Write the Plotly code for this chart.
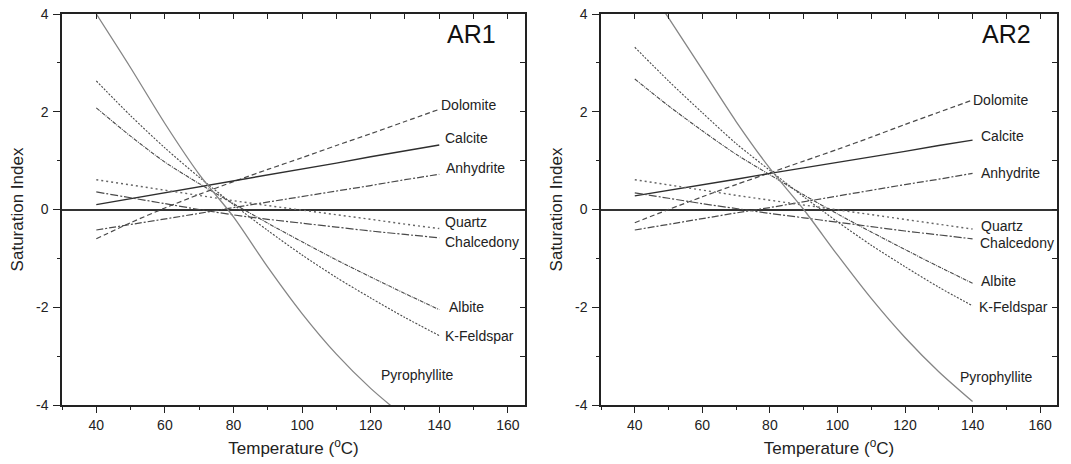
import plotly.graph_objects as go

# ---------------- data ----------------
temperature = [40, 50, 60, 70, 80, 90, 100, 110, 120, 130, 140]

ar1_dolomite     = [-0.60, -0.27, 0.03, 0.31, 0.57, 0.82, 1.06, 1.31, 1.55, 1.80, 2.05]
ar1_calcite      = [0.10, 0.22, 0.34, 0.47, 0.59, 0.71, 0.83, 0.95, 1.08, 1.20, 1.32]
ar1_anhydrite    = [-0.42, -0.31, -0.19, -0.08, 0.04, 0.15, 0.26, 0.38, 0.49, 0.61, 0.72]
ar1_quartz       = [0.61, 0.50, 0.39, 0.28, 0.18, 0.08, -0.01, -0.11, -0.20, -0.30, -0.39]
ar1_chalcedony   = [0.36, 0.24, 0.12, 0.00, -0.11, -0.20, -0.28, -0.36, -0.44, -0.51, -0.58]
ar1_albite       = [2.08, 1.50, 0.97, 0.53, 0.12, -0.28, -0.66, -1.03, -1.38, -1.72, -2.05]
ar1_kfeldspar    = [2.63, 1.92, 1.26, 0.66, 0.10, -0.43, -0.93, -1.39, -1.81, -2.21, -2.58]
ar1_pyrophyllite = [4.00, 2.90, 1.76, 0.72, -0.15, -1.18, -2.13, -2.96, -3.66, -4.25, -4.80]

ar2_dolomite     = [-0.27, 0.00, 0.26, 0.51, 0.75, 0.99, 1.23, 1.48, 1.74, 1.99, 2.24]
ar2_calcite      = [0.28, 0.39, 0.51, 0.62, 0.74, 0.85, 0.96, 1.08, 1.19, 1.31, 1.42]
ar2_anhydrite    = [-0.42, -0.30, -0.19, -0.07, 0.04, 0.16, 0.28, 0.39, 0.51, 0.62, 0.74]
ar2_quartz       = [0.61, 0.50, 0.39, 0.29, 0.19, 0.09, -0.01, -0.11, -0.21, -0.30, -0.40]
ar2_chalcedony   = [0.34, 0.23, 0.12, 0.02, -0.08, -0.17, -0.26, -0.35, -0.44, -0.52, -0.60]
ar2_albite       = [2.67, 2.12, 1.61, 1.13, 0.71, 0.30, -0.09, -0.46, -0.82, -1.17, -1.51]
ar2_kfeldspar    = [3.32, 2.63, 1.98, 1.35, 0.80, 0.26, -0.25, -0.73, -1.17, -1.59, -1.97]
ar2_pyrophyllite = [4.95, 3.92, 2.86, 1.80, 0.84, 0.00, -0.93, -1.82, -2.62, -3.32, -3.93]

minerals = ["Dolomite", "Calcite", "Anhydrite", "Quartz", "Chalcedony",
            "Albite", "K-Feldspar", "Pyrophyllite"]
ar1 = [ar1_dolomite, ar1_calcite, ar1_anhydrite, ar1_quartz, ar1_chalcedony,
       ar1_albite, ar1_kfeldspar, ar1_pyrophyllite]
ar2 = [ar2_dolomite, ar2_calcite, ar2_anhydrite, ar2_quartz, ar2_chalcedony,
       ar2_albite, ar2_kfeldspar, ar2_pyrophyllite]

x_ticks = [40, 60, 80, 100, 120, 140, 160]
x_ticktext = ["40", "60", "80", "100", "120", "140", "160"]
y_ticks = [-4, -2, 0, 2, 4]
y_ticktext = ["-4", "-2", "0", "2", "4"]

# ---------------- styles ----------------
styles = {
    "Dolomite":     dict(color="#4a4a4a", width=1.2, dash="5px,3px"),
    "Calcite":      dict(color="#2e2e2e", width=1.4, dash="solid"),
    "Anhydrite":    dict(color="#4a4a4a", width=1.2, dash="7px,2px,2px,2px"),
    "Quartz":       dict(color="#666666", width=1.4, dash="2px,3px"),
    "Chalcedony":   dict(color="#4a4a4a", width=1.2, dash="8px,2px,2px,2px"),
    "Albite":       dict(color="#4a4a4a", width=1.1, dash="4px,1px,1px,1px"),
    "K-Feldspar":   dict(color="#4a4a4a", width=1.1, dash="2px,1.5px"),
    "Pyrophyllite": dict(color="#858585", width=1.3, dash="solid"),
}

# label positions (data coordinates)
labels_ar1 = {
    "Dolomite": (140.0, 2.13), "Calcite": (141.2, 1.46), "Anhydrite": (141.5, 0.84),
    "Quartz": (141.2, -0.25), "Chalcedony": (141.0, -0.67), "Albite": (142.2, -2.0),
    "K-Feldspar": (141.2, -2.59), "Pyrophyllite": (122.3, -3.38),
}
labels_ar2 = {
    "Dolomite": (139.5, 2.25), "Calcite": (142.0, 1.50), "Anhydrite": (142.0, 0.74),
    "Quartz": (142.0, -0.34), "Chalcedony": (141.5, -0.68), "Albite": (141.8, -1.46),
    "K-Feldspar": (141.2, -2.0), "Pyrophyllite": (135.8, -3.42),
}

FONT = "Liberation Sans, Arial, Helvetica, sans-serif"
W, H = 1071, 464
y_dom = [1 - 405 / H, 1 - 14 / H]
x1_dom = [62 / W, 525 / W]
x2_dom = [601 / W, 1057 / W]

fig = go.Figure()

for data, xa, ya in [(ar1, "x", "y"), (ar2, "x2", "y2")]:
    for name, vals in zip(minerals, data):
        st = styles[name]
        shape = "spline" if name in ("Pyrophyllite", "Albite", "K-Feldspar", "Chalcedony", "Dolomite") else "linear"
        fig.add_trace(go.Scatter(
            x=temperature, y=vals, mode="lines", name=name, showlegend=False,
            line=dict(color=st["color"], width=st["width"], dash=st["dash"], shape=shape, smoothing=0.8),
            xaxis=xa, yaxis=ya, hoverinfo="x+y+name"))

# dummy traces for the mirrored (top / right) tick axes
fig.add_trace(go.Scatter(x=[None], y=[None], xaxis="x3", yaxis="y3", showlegend=False, hoverinfo="skip"))
fig.add_trace(go.Scatter(x=[None], y=[None], xaxis="x4", yaxis="y4", showlegend=False, hoverinfo="skip"))

axis_font = dict(family=FONT, size=14, color="#222")
title_font = dict(family=FONT, size=17, color="#222")

def xmain(dom, anchor):
    return dict(domain=dom, anchor=anchor, range=[30, 165], tickvals=x_ticks, ticktext=x_ticktext,
                ticks="outside", ticklen=6, tickwidth=1.2, tickcolor="#222",
                minor=dict(dtick=10, tick0=0, ticks="outside", ticklen=3, tickwidth=1.2, tickcolor="#222"),
                showline=True, linecolor="#222", linewidth=1.5, showgrid=False, zeroline=False,
                tickfont=axis_font, automargin=False, ticklabeloverflow="allow",
                title=dict(text="Temperature (<sup>o</sup>C)", font=title_font, standoff=11))

def ymain(anchor):
    return dict(domain=y_dom, anchor=anchor, range=[-4, 4], tickvals=y_ticks, ticktext=y_ticktext,
                ticks="outside", ticklen=7, tickwidth=1.2, tickcolor="#222", ticklabelstandoff=2,
                minor=dict(dtick=1, tick0=0, ticks="outside", ticklen=3, tickwidth=1.2, tickcolor="#222"),
                showline=True, linecolor="#222", linewidth=1.5, showgrid=False,
                zeroline=True, zerolinecolor="#333", zerolinewidth=1.6,
                tickfont=axis_font, automargin=False, ticklabeloverflow="allow",
                title=dict(text="Saturation Index", font=title_font, standoff=8))

def xtop(dom, overlay, anchor):
    return dict(domain=dom, overlaying=overlay, anchor=anchor, side="top", range=[30, 165],
                dtick=10, tick0=0, ticks="inside", ticklen=5, tickwidth=1.2, tickcolor="#222",
                showticklabels=False, showline=True, linecolor="#222", linewidth=1.5,
                showgrid=False, zeroline=False, automargin=False)

def yright(overlay, anchor):
    return dict(domain=y_dom, overlaying=overlay, anchor=anchor, side="right", range=[-4, 4],
                dtick=1, tick0=0, ticks="inside", ticklen=5, tickwidth=1.2, tickcolor="#222",
                showticklabels=False, showline=True, linecolor="#222", linewidth=1.5,
                showgrid=False, zeroline=False, automargin=False)

fig.update_layout(
    width=W, height=H,
    margin=dict(l=0, r=0, t=0, b=0, autoexpand=False),
    paper_bgcolor="white", plot_bgcolor="white",
    font=dict(family=FONT, color="#222"),
    showlegend=False,
    xaxis=xmain(x1_dom, "y"),
    yaxis=ymain("x"),
    xaxis2=xmain(x2_dom, "y2"),
    yaxis2=ymain("x2"),
    xaxis3=xtop(x1_dom, "x", "y3"),
    yaxis3=yright("y", "x3"),
    xaxis4=xtop(x2_dom, "x2", "y4"),
    yaxis4=yright("y2", "x4"),
)

annotations = []
for labels, xa, ya in [(labels_ar1, "x", "y"), (labels_ar2, "x2", "y2")]:
    for name, (lx, ly) in labels.items():
        annotations.append(dict(x=lx, y=ly, xref=xa, yref=ya, text=name, showarrow=False,
                                xanchor="left", yanchor="middle",
                                font=dict(family=FONT, size=14, color="#222")))
annotations.append(dict(x=157.2, y=3.6, xref="x", yref="y", text="AR1", showarrow=False,
                        xanchor="right", yanchor="middle", font=dict(family=FONT, size=25, color="#111")))
annotations.append(dict(x=157.8, y=3.6, xref="x2", yref="y2", text="AR2", showarrow=False,
                        xanchor="right", yanchor="middle", font=dict(family=FONT, size=25, color="#111")))
fig.update_layout(annotations=annotations)

# remove the default page margin so the figure sits at the window's top-left corner
fig.write_html("out.html", config={"displayModeBar": False},
               post_script="document.body.style.margin='0px';")
